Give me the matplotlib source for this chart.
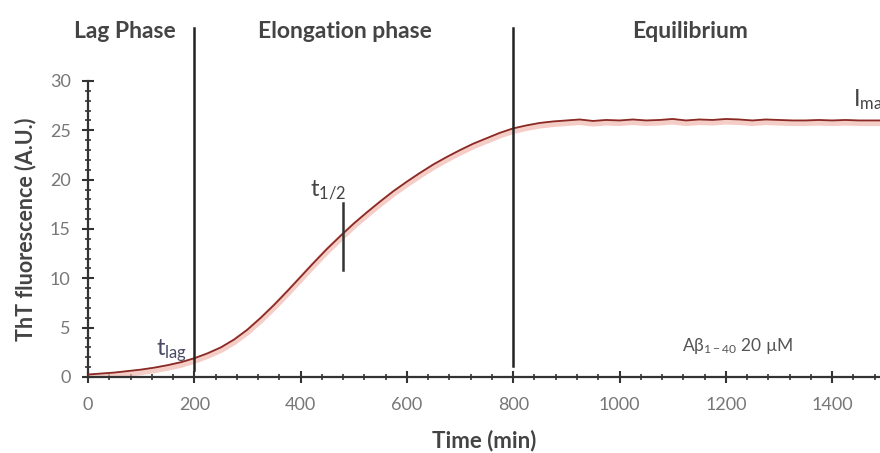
import matplotlib
matplotlib.use("Agg")
import matplotlib.pyplot as plt
from matplotlib.ticker import MultipleLocator

plt.rcParams['font.family'] = ['Lato', 'DejaVu Sans']
plt.rcParams['mathtext.fontset'] = 'custom'
plt.rcParams['mathtext.rm'] = 'Lato'
plt.rcParams['mathtext.it'] = 'Lato'

time_min = [0, 25, 50, 75, 100, 125, 150, 175, 200, 225, 250, 275, 300, 325, 350,
            375, 400, 425, 450, 475, 500, 525, 550, 575, 600, 625, 650, 675, 700,
            725, 750, 775, 800, 825, 850, 875, 900, 925, 950, 975, 1000, 1025,
            1050, 1075, 1100, 1125, 1150, 1175, 1200, 1225, 1250, 1275, 1300,
            1325, 1350, 1375, 1400, 1425, 1450, 1475, 1500]
tht = [0.25, 0.35, 0.45, 0.6, 0.75, 0.95, 1.2, 1.5, 1.9, 2.4, 3.0, 3.8, 4.8, 6.0, 7.3,
       8.7, 10.15, 11.6, 13.0, 14.3, 15.55, 16.7, 17.8, 18.85, 19.8, 20.7, 21.55, 22.3,
       23.0, 23.65, 24.2, 24.75, 25.2, 25.5, 25.75, 25.9, 26.0, 26.1, 25.95, 26.05,
       26.0, 26.1, 26.0, 26.05, 26.15, 26.0, 26.1, 26.05, 26.15, 26.1, 26.0, 26.1,
       26.05, 26.0, 26.0, 26.05, 26.0, 26.05, 26.0, 26.0, 26.0]

phase_bounds = [200, 800]
phase_names = ['Lag Phase', 'Elongation phase', 'Equilibrium']
phase_label_x = [70, 484, 1133]
t_half = 480
xticks = [0, 200, 400, 600, 800, 1000, 1200, 1400]
yticks = [0, 5, 10, 15, 20, 25, 30]

fig = plt.figure(figsize=(8.8, 4.53), dpi=100)
ax = fig.add_axes([0.1, 0.1678, 0.9, 0.6534])
ax.set_xlim(0, 1490)
ax.set_ylim(0, 30)

ax.plot(time_min, [v - 0.25 for v in tht], color='#f2b8b0', lw=4.5, alpha=0.7,
        solid_capstyle='round', zorder=2)
ax.plot(time_min, tht, color='#8a2a25', lw=1.3, zorder=3)

tick_col = '#333333'
for s in ['top', 'right']:
    ax.spines[s].set_visible(False)
for s in ['left', 'bottom']:
    ax.spines[s].set_color(tick_col)
    ax.spines[s].set_linewidth(1.6)
ax.spines['left'].set_bounds(0, 30)

ax.set_xticks(xticks)
ax.set_yticks(yticks)
ax.xaxis.set_minor_locator(MultipleLocator(40))
ax.yaxis.set_minor_locator(MultipleLocator(1))
ax.tick_params(which='major', direction='inout', length=9, width=1.5, color=tick_col,
               labelsize=13, labelcolor='#777777')
ax.tick_params(axis='x', which='major', pad=10)
ax.tick_params(axis='y', which='major', pad=8)
ax.tick_params(which='minor', direction='inout', length=4, width=1.2, color=tick_col)

ax.set_xlabel('Time (min)', fontsize=16, fontweight='bold', color='#444444', labelpad=12)
ax.set_ylabel('ThT fluorescence (A.U.)', fontsize=15.5, fontweight='bold', color='#444444',
              labelpad=10)

# phase boundaries
ax.plot([phase_bounds[0]] * 2, [0.7, 35.4], color='#222222', lw=1.8, clip_on=False, zorder=4)
ax.plot([phase_bounds[1]] * 2, [1.1, 35.4], color='#222222', lw=1.8, clip_on=False, zorder=4)
ax.plot([t_half] * 2, [10.8, 17.6], color='#333333', lw=1.8, zorder=4)

for name, xp in zip(phase_names, phase_label_x):
    ax.text(xp, 35.0, name, ha='center', va='center', fontsize=16.5, fontweight='bold',
            color='#444444', clip_on=False)

ax.text(128, 2.2, r'$\mathregular{t_{lag}}$', fontsize=17, color='#4a4a66', ha='left',
        va='baseline')
ax.text(418, 18.4, r'$\mathregular{t_{1/2}}$', fontsize=17, color='#444444', ha='left',
        va='baseline')
ax.text(1440, 27.4, r'$\mathregular{I_{max}}$', fontsize=17, color='#444444', ha='left',
        va='baseline', clip_on=False)
ax.text(1117, 2.6, r'$\mathregular{A\beta_{1-40}}$ 20 µM', fontsize=12.5, color='#555555',
        ha='left', va='baseline')

fig.savefig('out.png', dpi=100)
